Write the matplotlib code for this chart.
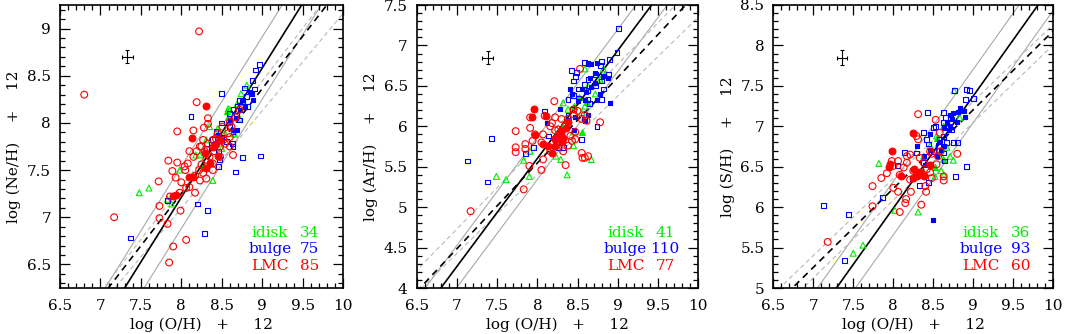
import matplotlib
matplotlib.use("Agg")
import matplotlib.pyplot as plt
from matplotlib.ticker import MultipleLocator, FuncFormatter
import numpy as np

plt.rcParams['font.family'] = ['DejaVu Serif']

# ---------------- data: Ne vs O ----------------
ne_lmc_open_x = [6.80, 7.17, 8.22, 8.19, 7.95, 8.15, 8.28, 8.33, 8.10, 7.84, 7.95, 8.04, 8.05, 7.89, 7.93, 7.72,
                 8.00, 8.06, 7.98, 8.17, 7.86, 7.73, 7.73, 7.99, 7.83, 7.90, 8.06, 7.85, 8.67, 8.64, 8.33, 8.27,
                 8.25, 8.33, 8.39, 8.45, 8.51, 8.60, 8.60, 8.54, 8.48, 8.41, 8.35, 8.31, 8.25, 8.22, 8.27, 8.31,
                 8.17, 8.23, 8.39, 8.48, 8.39, 8.58, 8.43, 8.29, 8.15, 8.08, 8.19, 8.23, 8.52, 8.62, 8.72, 8.60, 8.10]
ne_lmc_open_y = [8.30, 7.00, 8.97, 8.22, 7.91, 7.92, 7.95, 7.99, 7.70, 7.60, 7.58, 7.54, 7.50, 7.49, 7.42, 7.38,
                 7.37, 7.31, 7.26, 7.26, 7.22, 7.12, 6.99, 7.07, 6.93, 6.69, 6.76, 6.52, 8.06, 7.66, 8.05, 7.82,
                 7.75, 7.78, 7.82, 7.89, 7.96, 8.01, 7.85, 7.78, 7.75, 7.70, 7.64, 7.61, 7.56, 7.50, 7.47, 7.41,
                 7.44, 7.39, 7.50, 7.64, 7.57, 7.89, 7.83, 7.70, 7.64, 7.57, 7.70, 7.75, 7.82, 7.96, 8.14, 7.75, 7.32]
ne_lmc_fill_x = [8.30, 8.13, 8.29, 8.35, 8.45, 8.39, 8.43, 8.10, 8.15, 7.90, 7.94, 8.31, 8.48]
ne_lmc_fill_y = [8.18, 7.84, 7.68, 7.57, 7.65, 7.75, 7.78, 7.43, 7.43, 7.23, 7.24, 7.52, 7.82]
ne_blg_open_x = [7.37, 7.83, 8.12, 8.20, 8.32, 8.29, 8.50, 8.50, 8.46, 8.47, 8.67, 8.76, 8.98, 8.64, 8.97, 8.92,
                 8.88, 8.78, 8.91, 8.81, 8.76, 8.69, 8.72, 8.64, 8.60, 8.68, 8.60, 8.64, 8.43, 8.39, 8.50, 8.56,
                 8.37, 8.31, 8.72, 8.82, 8.46, 8.63]
ne_blg_open_y = [6.78, 7.18, 8.07, 7.14, 7.07, 6.83, 8.31, 8.00, 7.54, 7.61, 7.48, 7.63, 7.65, 7.75, 8.62, 8.56,
                 8.45, 8.37, 8.36, 8.28, 8.23, 8.18, 8.24, 8.14, 8.10, 8.08, 7.96, 7.91, 7.91, 7.82, 7.85, 7.80,
                 7.77, 7.73, 8.03, 8.17, 7.70, 7.78]
ne_blg_fill_x = [8.87, 8.89, 8.79, 8.72, 8.68, 8.69, 8.64, 8.60, 8.48, 8.43, 8.45, 8.76, 8.85]
ne_blg_fill_y = [8.31, 8.24, 8.17, 8.14, 8.05, 7.93, 7.93, 8.03, 7.84, 7.78, 7.87, 8.24, 8.33]
ne_idk_open_x = [7.48, 7.60, 7.83, 7.88, 7.98, 8.18, 8.39, 8.35, 8.31, 8.58, 8.81, 8.69, 8.72, 8.45, 8.64, 8.66,
                 8.27, 8.50, 8.54, 8.43, 8.60, 8.74, 8.23]
ne_idk_open_y = [7.26, 7.31, 7.19, 7.14, 7.50, 7.66, 7.39, 7.96, 7.82, 8.15, 8.40, 8.20, 8.05, 7.94, 7.89, 7.88,
                 7.52, 7.73, 7.89, 7.89, 8.14, 8.31, 7.66]
ne_idk_fill_x = [8.57, 8.58, 8.75]
ne_idk_fill_y = [8.13, 8.06, 8.22]

# ---------------- data: Ar vs O ----------------
ar_lmc_open_x = [7.17, 7.83, 7.73, 7.73, 7.73, 7.85, 7.85, 7.90, 7.91, 7.94, 7.91, 7.97, 8.07, 8.07, 8.05, 8.21,
                 8.09, 8.22, 8.18, 8.16, 8.22, 8.24, 8.16, 8.32, 8.38, 8.35, 8.45, 8.38, 8.50, 8.59, 8.55, 8.61,
                 8.78, 8.47, 8.41, 8.30, 8.26, 8.34, 8.43, 8.55, 8.56, 8.59, 8.63, 8.47, 8.53, 8.45, 8.30, 8.22, 8.05]
ar_lmc_open_y = [4.95, 5.22, 5.74, 5.68, 5.94, 5.78, 5.72, 5.51, 5.98, 5.82, 6.11, 5.90, 5.90, 5.59, 5.46, 6.31,
                 6.13, 6.11, 6.04, 6.00, 5.84, 5.76, 5.69, 5.69, 5.76, 5.52, 6.15, 6.09, 6.19, 6.14, 6.09, 6.07,
                 6.05, 5.93, 5.88, 5.92, 5.96, 6.00, 5.82, 5.67, 5.61, 5.61, 5.63, 5.84, 6.71, 6.21, 6.09, 5.95, 5.80]
ar_lmc_fill_x = [7.96, 7.93, 7.97, 8.07, 8.13, 8.11, 8.22, 8.26, 8.29, 8.32, 8.38, 8.36, 8.22, 8.30, 8.18]
ar_lmc_fill_y = [6.21, 6.11, 5.89, 5.78, 5.76, 6.13, 5.84, 5.88, 5.94, 5.86, 6.05, 5.98, 5.76, 5.80, 5.67]
ar_blg_open_x = [9.01, 7.13, 7.38, 7.43, 7.85, 7.95, 8.09, 8.14, 8.26, 8.32, 8.43, 8.51, 8.45, 8.47, 8.49, 8.42,
                 8.38, 8.59, 8.63, 8.80, 8.78, 8.99, 8.90, 8.80, 8.63, 8.59, 8.72, 8.88, 8.72, 8.63, 8.55, 8.74,
                 8.51, 8.59, 8.63, 8.82, 8.45, 8.65, 8.80, 8.38]
ar_blg_open_y = [7.21, 5.57, 5.31, 5.85, 5.66, 5.74, 6.19, 5.88, 5.74, 5.74, 6.21, 6.46, 6.56, 6.62, 6.67, 6.69,
                 6.33, 6.79, 6.78, 6.80, 6.75, 6.91, 6.83, 6.33, 6.33, 6.52, 6.50, 6.64, 6.64, 6.58, 5.84, 6.00,
                 6.35, 6.09, 6.44, 6.46, 6.38, 6.28, 6.56, 6.13]
ar_blg_fill_x = [8.41, 8.43, 8.55, 8.61, 8.67, 8.72, 8.82, 8.88, 8.90, 8.74, 8.63, 8.67, 8.72, 8.65, 8.59, 8.63,
                 8.59, 8.47, 8.28, 8.45, 8.12, 8.51, 8.78, 8.74]
ar_blg_fill_y = [6.46, 6.40, 6.46, 6.42, 6.48, 6.54, 6.62, 6.60, 6.29, 6.78, 6.77, 6.77, 6.66, 6.60, 6.33, 6.14,
                 6.07, 6.11, 6.21, 5.95, 6.04, 6.31, 6.40, 6.33]
ar_idk_open_x = [7.49, 7.61, 7.83, 7.91, 7.90, 8.23, 8.29, 8.37, 8.67, 8.32, 8.45, 8.45, 8.59, 8.82, 8.84, 8.47,
                 8.55, 8.59, 8.72, 8.38, 8.34, 8.63, 8.78]
ar_idk_open_y = [5.38, 5.34, 5.58, 5.69, 5.38, 5.63, 5.59, 5.40, 5.59, 6.29, 5.76, 5.93, 6.71, 6.71, 6.64, 6.38,
                 6.17, 6.25, 6.40, 6.21, 6.02, 6.50, 6.58]
ar_idk_fill_x = [8.52, 8.55, 8.62, 8.45]
ar_idk_fill_y = [6.36, 5.93, 6.30, 6.25]

# ---------------- data: S vs O ----------------
s_lmc_open_x = [7.18, 7.74, 7.74, 7.85, 7.92, 8.00, 8.06, 8.08, 8.15, 8.16, 8.22, 8.06, 8.08, 8.17, 8.17, 8.21,
                8.31, 8.29, 8.31, 8.33, 8.38, 8.35, 8.40, 8.41, 8.46, 8.48, 8.53, 8.58, 8.56, 8.54, 8.63, 8.63,
                8.80, 8.46, 8.25, 8.29, 8.42, 8.48, 8.59, 8.00, 8.13, 8.21, 7.98]
s_lmc_open_y = [5.57, 6.26, 6.01, 6.36, 6.42, 6.24, 6.19, 5.94, 6.05, 6.10, 6.19, 6.57, 6.40, 6.63, 6.55, 6.34,
                7.15, 6.88, 6.84, 6.61, 6.55, 6.03, 6.26, 6.19, 6.43, 6.36, 7.08, 6.92, 6.63, 6.53, 6.38, 6.33,
                6.66, 6.69, 6.45, 6.40, 6.47, 6.66, 6.69, 6.51, 6.49, 6.65, 6.57]
s_lmc_fill_x = [7.98, 7.96, 7.95, 8.09, 8.25, 8.26, 8.29, 8.33, 8.46, 8.25, 8.38]
s_lmc_fill_y = [6.69, 6.53, 6.50, 6.39, 6.92, 6.47, 6.38, 6.43, 6.52, 6.36, 6.38]
s_blg_open_x = [7.13, 7.44, 7.39, 7.86, 8.05, 8.14, 8.24, 8.33, 8.43, 8.44, 8.38, 8.46, 8.50, 8.53, 8.63, 8.71,
                8.77, 8.91, 8.95, 8.90, 9.00, 8.92, 8.78, 8.75, 8.80, 8.63, 8.64, 8.67, 8.56, 8.50, 8.63, 8.29,
                8.38, 8.63, 8.73, 8.58, 8.42, 8.44, 8.65]
s_blg_open_y = [6.02, 5.91, 5.34, 6.12, 6.52, 6.68, 6.35, 6.27, 7.17, 6.30, 6.55, 6.53, 6.98, 7.00, 7.17, 7.11,
                7.44, 7.45, 7.44, 7.33, 7.34, 6.50, 6.38, 6.80, 6.80, 6.67, 6.57, 6.80, 6.76, 6.69, 6.87, 6.67,
                6.92, 7.05, 6.96, 6.84, 6.84, 6.78, 7.11]
s_blg_fill_x = [8.49, 8.29, 8.46, 8.38, 8.63, 8.67, 8.71, 8.75, 8.81, 8.88, 8.83, 8.90, 8.79, 8.71, 8.58, 8.63,
                8.69, 8.54, 8.46, 8.40, 8.73, 8.60]
s_blg_fill_y = [5.84, 6.76, 6.90, 6.63, 6.98, 7.04, 7.14, 7.17, 7.18, 7.19, 7.23, 7.11, 7.05, 7.00, 6.80, 6.76,
                6.95, 6.63, 6.71, 6.52, 7.09, 6.71]
s_idk_open_x = [7.82, 8.02, 8.31, 7.50, 7.62, 8.76, 8.75, 8.71, 8.63, 8.54, 8.46, 8.58, 8.52, 8.60, 8.63, 8.38,
                8.83, 8.67, 8.29, 8.38]
s_idk_open_y = [6.54, 5.96, 5.94, 5.43, 5.53, 7.44, 6.58, 6.63, 7.00, 6.88, 6.76, 6.67, 6.38, 6.45, 6.40, 6.43,
                7.11, 6.74, 6.43, 6.63]
s_idk_fill_x = [8.55, 8.62, 8.52]
s_idk_fill_y = [6.85, 6.60, 6.50]

# ---------------- panel settings ----------------
elements = ['Ne', 'Ar', 'S']
ylims = [(6.25, 9.25), (4.0, 7.5), (5.0, 8.5)]
counts = [(34, 75, 85), (41, 110, 77), (36, 93, 60)]
group_names = ['idisk', 'bulge', 'LMC']

# fit lines (intercept, slope): solid fit, its +/- band, dashed fit and its band
solid_fit = [(-3.75, 1.37), (-5.085, 1.336), (-5.125, 1.389)]
solid_off = [0.33, 0.26, 0.33]
dash_fit = [(-1.628, 1.11), (-2.934, 1.06), (-1.57, 0.975)]
dash_up = [(-1.62, 1.118), (-2.41, 1.02), (-1.27, 0.953)]
dash_lo = [(-1.16, 1.032), (-2.39, 0.974), (-1.61, 0.962)]

# typical error bars (x, y, xerr, yerr)
errbars = [(7.33, 8.70, 0.068, 0.07), (7.38, 6.85, 0.07, 0.08), (7.36, 7.85, 0.062, 0.09)]

data = [
    dict(lo=(ne_lmc_open_x, ne_lmc_open_y), lf=(ne_lmc_fill_x, ne_lmc_fill_y),
         bo=(ne_blg_open_x, ne_blg_open_y), bf=(ne_blg_fill_x, ne_blg_fill_y),
         io=(ne_idk_open_x, ne_idk_open_y), if_=(ne_idk_fill_x, ne_idk_fill_y)),
    dict(lo=(ar_lmc_open_x, ar_lmc_open_y), lf=(ar_lmc_fill_x, ar_lmc_fill_y),
         bo=(ar_blg_open_x, ar_blg_open_y), bf=(ar_blg_fill_x, ar_blg_fill_y),
         io=(ar_idk_open_x, ar_idk_open_y), if_=(ar_idk_fill_x, ar_idk_fill_y)),
    dict(lo=(s_lmc_open_x, s_lmc_open_y), lf=(s_lmc_fill_x, s_lmc_fill_y),
         bo=(s_blg_open_x, s_blg_open_y), bf=(s_blg_fill_x, s_blg_fill_y),
         io=(s_idk_open_x, s_idk_open_y), if_=(s_idk_fill_x, s_idk_fill_y)),
]

RED = '#ff0000'
BLUE = '#0000ff'
GREEN = '#00ee00'
colors = [GREEN, BLUE, RED]

fig = plt.figure(figsize=(10.66, 3.34), dpi=100)
lefts = [60 / 1066, 416.7 / 1066, 773.3 / 1066]
widths = [283 / 1066, 281.6 / 1066, 280 / 1066]
bottom = 46 / 334
height = 283 / 334

fmt = FuncFormatter(lambda v, p: ('%g' % round(v, 2)))
FS = 11

for i in range(3):
    ax = fig.add_axes([lefts[i], bottom, widths[i], height])
    ax.set_xlim(6.5, 10)
    ax.set_ylim(*ylims[i])
    xx = np.array([6.0, 10.5])

    # lines
    a, b = solid_fit[i]
    ax.plot(xx, a + solid_off[i] + b * xx, color='#a8a8a8', lw=0.8, zorder=1)
    ax.plot(xx, a - solid_off[i] + b * xx, color='#a8a8a8', lw=0.8, zorder=1)
    for (aa, bb) in (dash_up[i], dash_lo[i]):
        ax.plot(xx, aa + bb * xx, color='#b8b8b8', lw=0.8, ls=(0, (4, 3)), zorder=1)
    a2, b2 = dash_fit[i]
    ax.plot(xx, a2 + b2 * xx, color='black', lw=1.2, ls=(0, (4, 3)), zorder=2)
    ax.plot(xx, a + b * xx, color='black', lw=1.2, zorder=2)

    d = data[i]
    ax.scatter(*d['io'], marker='^', s=18, facecolors='none', edgecolors=GREEN, linewidths=0.8, zorder=3)
    ax.scatter(*d['if_'], marker='^', s=18, facecolors=GREEN, edgecolors=GREEN, linewidths=0.8, zorder=3)
    ax.scatter(*d['bo'], marker='s', s=12, facecolors='none', edgecolors=BLUE, linewidths=0.8, zorder=4)
    ax.scatter(*d['bf'], marker='s', s=12, facecolors=BLUE, edgecolors=BLUE, linewidths=0.8, zorder=4)
    ax.scatter(*d['lo'], marker='o', s=24, facecolors='none', edgecolors=RED, linewidths=0.8, zorder=5)
    ax.scatter(*d['lf'], marker='o', s=24, facecolors=RED, edgecolors=RED, linewidths=0.8, zorder=5)

    ex, ey, exe, eye = errbars[i]
    ax.errorbar([ex], [ey], xerr=[exe], yerr=[eye], fmt='none', ecolor='black',
                elinewidth=0.8, capsize=1.5, capthick=0.8, zorder=6)

    # count labels
    rows = [0.195, 0.138, 0.077]
    for k in range(3):
        ax.text(0.742, rows[k], group_names[k], transform=ax.transAxes, color=colors[k],
                ha='center', va='center', fontsize=FS)
        ax.text(0.882, rows[k], str(counts[i][k]), transform=ax.transAxes, color=colors[k],
                ha='center', va='center', fontsize=FS)

    ax.xaxis.set_major_locator(MultipleLocator(0.5))
    ax.xaxis.set_minor_locator(MultipleLocator(0.1))
    ax.yaxis.set_major_locator(MultipleLocator(0.5))
    ax.yaxis.set_minor_locator(MultipleLocator(0.1))
    ax.xaxis.set_major_formatter(fmt)
    ax.yaxis.set_major_formatter(fmt)
    ax.tick_params(which='both', direction='in', top=True, right=True, width=0.9)
    ax.tick_params(which='major', length=7, labelsize=FS)
    ax.tick_params(axis='x', which='major', pad=8)
    ax.tick_params(axis='y', which='major', pad=6.5)
    ax.tick_params(which='minor', length=3.5)
    for sp in ax.spines.values():
        sp.set_linewidth(1.2)

    ax.set_xlabel('log (O/H)   +     12', fontsize=FS, labelpad=3)
    ax.set_ylabel('log (%s/H)    +    12' % elements[i], fontsize=FS, labelpad=4)

fig.savefig('out.png', dpi=100)
